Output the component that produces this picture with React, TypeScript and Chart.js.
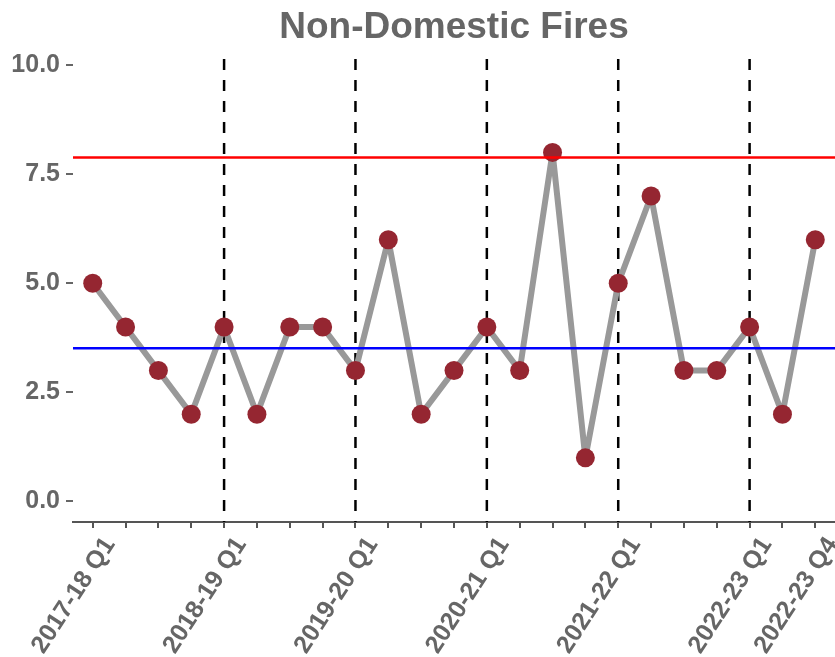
import React, { useEffect, useRef } from 'react';
import { Chart, registerables } from 'chart.js';

Chart.register(...registerables);

const quarters = [
  '2017-18 Q1', '2017-18 Q2', '2017-18 Q3', '2017-18 Q4',
  '2018-19 Q1', '2018-19 Q2', '2018-19 Q3', '2018-19 Q4',
  '2019-20 Q1', '2019-20 Q2', '2019-20 Q3', '2019-20 Q4',
  '2020-21 Q1', '2020-21 Q2', '2020-21 Q3', '2020-21 Q4',
  '2021-22 Q1', '2021-22 Q2', '2021-22 Q3', '2021-22 Q4',
  '2022-23 Q1', '2022-23 Q3', '2022-23 Q4',
];
const fires = [5, 4, 3, 2, 4, 2, 4, 4, 3, 6, 2, 3, 4, 3, 8, 1, 5, 7, 3, 3, 4, 2, 6];
const upperLimit = 7.88;
const centreLine = 3.51;
const yTicks = [0, 2.5, 5, 7.5, 10];
const titleText = 'Non-Domestic Fires';

const FONT = '"Liberation Sans", Arial, Helvetica, sans-serif';
const TEXT_GREY = '#666666';

export default function App() {
  const ref = useRef<HTMLCanvasElement>(null);

  useEffect(() => {
    document.body.style.margin = '0';
    const canvas = ref.current;
    if (!canvas) return;

    const shown = new Set<number>();
    quarters.forEach((q, i) => {
      if (q.endsWith('Q1') || i === quarters.length - 1) shown.add(i);
    });
    const yearStarts = quarters
      .map((q, i) => (q.endsWith('Q1') && i > 0 ? i : -1))
      .filter((i) => i >= 0);

    const refPlugin = {
      id: 'refLines',
      beforeDatasetsDraw(chart: any) {
        const { ctx, chartArea, scales } = chart;
        const x = scales.x;
        ctx.save();
        ctx.strokeStyle = '#000000';
        ctx.lineWidth = 2.5;
        ctx.setLineDash([11, 10]);
        yearStarts.forEach((i) => {
          const px = x.getPixelForValue(i);
          ctx.beginPath();
          ctx.moveTo(px, chartArea.top);
          ctx.lineTo(px, chartArea.bottom);
          ctx.stroke();
        });
        ctx.restore();
      },
      afterDatasetsDraw(chart: any) {
        const { ctx, chartArea, scales } = chart;
        const y = scales.y;
        ctx.save();
        ctx.lineWidth = 2.5;
        const lines: [number, string][] = [
          [upperLimit, '#ff0000'],
          [centreLine, '#0000ff'],
        ];
        lines.forEach(([v, c]) => {
          const py = y.getPixelForValue(v);
          ctx.strokeStyle = c;
          ctx.beginPath();
          ctx.moveTo(chartArea.left, py);
          ctx.lineTo(chartArea.right, py);
          ctx.stroke();
        });
        ctx.restore();
      },
      afterDraw(chart: any) {
        const { ctx, chartArea } = chart;
        ctx.save();
        ctx.font = `bold 37px ${FONT}`;
        ctx.fillStyle = TEXT_GREY;
        ctx.textAlign = 'center';
        ctx.textBaseline = 'alphabetic';
        ctx.fillText(titleText, (chartArea.left + chartArea.right) / 2, 38);
        ctx.restore();
      },
    };

    const chart = new Chart(canvas, {
      type: 'line',
      data: {
        datasets: [
          {
            data: fires.map((v, i) => ({ x: i, y: v })),
            borderColor: '#999999',
            borderWidth: 6,
            borderJoinStyle: 'round',
            borderCapStyle: 'round',
            pointBackgroundColor: '#952631',
            pointBorderColor: '#952631',
            pointBorderWidth: 0,
            pointRadius: 9.5,
            tension: 0,
            clip: false,
          },
        ],
      },
      options: {
        responsive: false,
        animation: false,
        layout: { autoPadding: false, padding: { top: 59, right: 0, left: 0, bottom: 0 } },
        plugins: {
          legend: { display: false },
          tooltip: { enabled: false },
          title: { display: false },
        },
        scales: {
          x: {
            type: 'linear',
            min: -0.6,
            max: 22.6,
            afterBuildTicks: (s: any) => {
              s.ticks = quarters.map((_, i) => ({ value: i }));
            },
            afterFit: (s: any) => {
              s.height = 135;
              s.paddingLeft = 0;
              s.paddingRight = 0;
            },
            ticks: {
              autoSkip: false,
              minRotation: 57,
              maxRotation: 57,
              padding: 4,
              labelOffset: 17,
              color: TEXT_GREY,
              font: { family: FONT, size: 25, weight: 'bold' },
              callback: (v: any) => (shown.has(Number(v)) ? quarters[Number(v)] : ''),
            },
            grid: {
              drawOnChartArea: false,
              drawTicks: true,
              tickLength: 6,
              color: '#555555',
              lineWidth: 2,
            },
            border: { display: true, color: '#555555', width: 2 },
          },
          y: {
            type: 'linear',
            min: -0.47,
            max: 10.14,
            afterBuildTicks: (s: any) => {
              s.ticks = yTicks.map((v) => ({ value: v }));
            },
            afterFit: (s: any) => {
              s.width = 73;
              s.paddingTop = 0;
              s.paddingBottom = 0;
            },
            ticks: {
              padding: 6,
              color: TEXT_GREY,
              font: { family: FONT, size: 25, weight: 'bold' },
              callback: (v: any) => Number(v).toFixed(1),
            },
            grid: {
              drawOnChartArea: false,
              drawTicks: true,
              tickLength: 7,
              color: '#666666',
              lineWidth: 2,
            },
            border: { display: false },
          },
        },
      },
      plugins: [refPlugin],
    } as any);

    return () => chart.destroy();
  }, []);

  return (
    <div style={{ width: 835, height: 657 }}>
      <canvas ref={ref} width={835} height={657} style={{ width: 835, height: 657, display: 'block' }} />
    </div>
  );
}
